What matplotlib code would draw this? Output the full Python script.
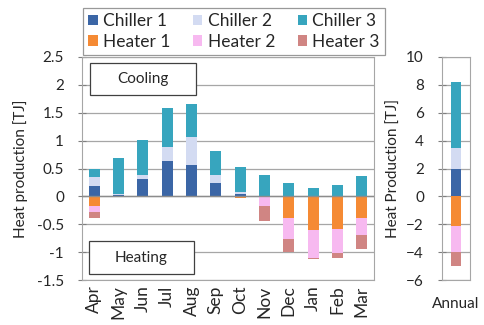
import numpy as np
import matplotlib
matplotlib.use("Agg")
import matplotlib.pyplot as plt
from matplotlib.patches import Rectangle

plt.rcParams['font.family'] = ['Lato', 'DejaVu Sans']

# Monthly heat production [TJ]
months = ["Apr", "May", "Jun", "Jul", "Aug", "Sep", "Oct", "Nov", "Dec", "Jan", "Feb", "Mar"]
chiller1 = [0.18, 0.03, 0.32, 0.63, 0.57, 0.24, 0.05, 0.00, 0.00, 0.00, 0.00, 0.00]
chiller2 = [0.17, 0.02, 0.06, 0.26, 0.49, 0.14, 0.02, 0.00, 0.00, 0.00, 0.00, 0.00]
chiller3 = [0.15, 0.64, 0.64, 0.70, 0.60, 0.43, 0.46, 0.39, 0.24, 0.15, 0.20, 0.36]
heater1 = [-0.17, 0.00, 0.00, 0.00, 0.00, 0.00, -0.03, 0.00, -0.38, -0.61, -0.59, -0.39]
heater2 = [-0.11, 0.00, 0.00, 0.00, 0.00, 0.00, 0.00, -0.17, -0.38, -0.49, -0.43, -0.31]
heater3 = [-0.10, 0.00, 0.00, 0.00, 0.00, 0.00, 0.00, -0.27, -0.24, -0.03, -0.09, -0.24]

# Annual totals [TJ]
annual_label = ["Annual"]
annual_chiller = [2.0, 1.45, 4.75]
annual_heater = [-2.15, -1.85, -1.0]

names_c = ["Chiller 1", "Chiller 2", "Chiller 3"]
names_h = ["Heater 1", "Heater 2", "Heater 3"]
colors_c = ["#3b66a6", "#d3dbf2", "#37a5be"]
colors_h = ["#f58a34", "#f7b9f0", "#d08583"]

fs = 11
txt_col = "#262626"
grid_col = "#a6a6a6"

fig = plt.figure(figsize=(4.84, 3.25), dpi=100)
ax = fig.add_axes([82/484, 1 - 280/325, 292/484, 223/325])
ax2 = fig.add_axes([442/484, 1 - 280/325, 28/484, 223/325])

x = np.arange(len(months))
w = 0.46

# stacked positive (chillers) and negative (heaters)
hc, hh = [], []
bottom = np.zeros(len(months))
for vals, col, name in zip([chiller1, chiller2, chiller3], colors_c, names_c):
    hc.append(ax.bar(x, vals, w, bottom=bottom, color=col, label=name, zorder=3))
    bottom = bottom + np.array(vals)
bottom = np.zeros(len(months))
for vals, col, name in zip([heater1, heater2, heater3], colors_h, names_h):
    hh.append(ax.bar(x, vals, w, bottom=bottom, color=col, label=name, zorder=3))
    bottom = bottom + np.array(vals)

ax.set_xlim(-0.5, len(months) - 0.5)
ax.set_ylim(-1.5, 2.5)
ax.set_yticks(np.arange(-1.5, 2.51, 0.5))
ax.set_yticklabels(["-1.5", "-1", "-0.5", "0", "0.5", "1", "1.5", "2", "2.5"])
ax.yaxis.grid(True, color=grid_col, lw=0.9, zorder=0)
ax.axhline(0, color="#8c8c8c", lw=1, zorder=4)
ax.set_xticks(x)
ax.set_xticklabels(months, rotation=90, fontsize=12.5, color=txt_col)
ax.tick_params(axis='x', length=0, pad=4)
ax.tick_params(axis='y', labelsize=fs, labelcolor=txt_col, length=6, direction='inout',
               color="#7f7f7f", pad=10)
ax.set_ylabel("Heat production [TJ]", fontsize=fs, color=txt_col, labelpad=6)
for s in ax.spines.values():
    s.set_color(grid_col)

# Cooling / Heating label boxes
for (x0, y0, x1, y1), label in [((0.027, 0.83, 0.39, 0.975), "Cooling"),
                                 ((0.024, 0.026, 0.382, 0.175), "Heating")]:
    ax.add_patch(Rectangle((x0, y0), x1 - x0, y1 - y0, transform=ax.transAxes,
                           fc="white", ec="#404040", lw=0.9, zorder=6))
    ax.text((x0 + x1) / 2, (y0 + y1) / 2, label, transform=ax.transAxes, fontsize=fs,
            color=txt_col, ha="center", va="center", zorder=7)

# annual stacked bar
xa = np.arange(len(annual_label))
b0 = 0.0
for v, col in zip(annual_chiller, colors_c):
    ax2.bar(xa, [v], 0.38, bottom=b0, color=col, zorder=3)
    b0 += v
b0 = 0.0
for v, col in zip(annual_heater, colors_h):
    ax2.bar(xa, [v], 0.38, bottom=b0, color=col, zorder=3)
    b0 += v
ax2.set_xlim(-0.5, 0.5)
ax2.set_ylim(-6, 10)
ax2.set_yticks(np.arange(-6, 11, 2))
ax2.yaxis.grid(True, color=grid_col, lw=0.9, zorder=0)
ax2.set_xticks(xa)
ax2.set_xticklabels(annual_label, fontsize=fs, color=txt_col)
ax2.tick_params(axis='x', length=0, pad=12)
ax2.tick_params(axis='y', labelsize=fs, labelcolor=txt_col, length=6, direction='inout',
                color="#7f7f7f", pad=10)
ax2.set_ylabel("Heat Production [TJ]", fontsize=fs, color=txt_col, labelpad=4)
for s in ax2.spines.values():
    s.set_color(grid_col)

# legend filled row by row: chillers on top, heaters below
handles = [h for pair in zip(hc, hh) for h in pair]
leg = fig.legend(handles=handles, loc="upper left", bbox_to_anchor=(83/484, 1 - 8/325),
                 ncol=3, fontsize=12.5, frameon=True, fancybox=False, handlelength=0.55,
                 handleheight=0.55, handletextpad=0.3, columnspacing=1.3, labelspacing=0.25,
                 borderpad=0.3, borderaxespad=0)
for t in leg.get_texts():
    t.set_color(txt_col)
leg.get_frame().set_edgecolor("#808080")
leg.get_frame().set_linewidth(0.9)

fig.savefig("out.png", dpi=100)
